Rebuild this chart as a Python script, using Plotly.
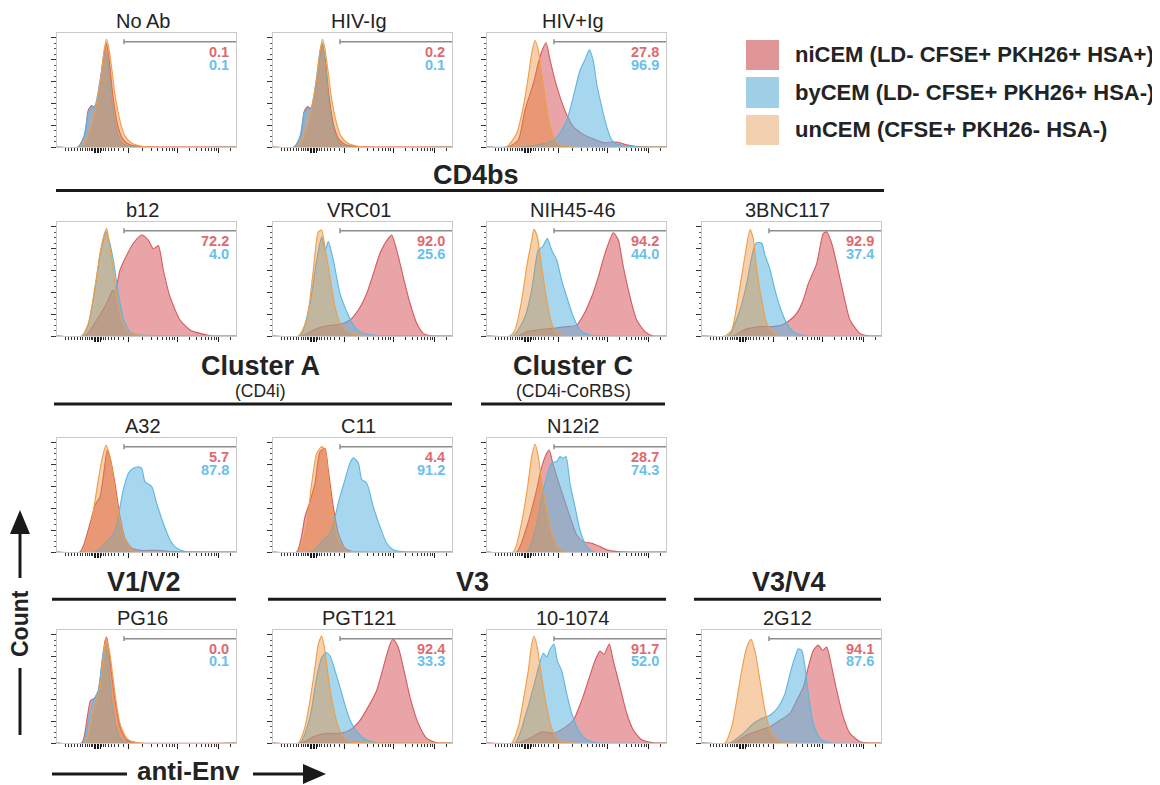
import plotly.graph_objects as go

W, H = 1160, 785
OFF = 8                      # browser body margin the page is drawn inside
FW, FH = W - OFF, H - OFF    # figure size so that it ends at the window edge
FONT = "Liberation Sans, Arial, Helvetica, sans-serif"

# ---------------- data (x: display channel 0-179, y: % of mode) ----------------
panel_names = ["No Ab", "HIV-Ig", "HIV+Ig", "b12", "VRC01", "NIH45-46", "3BNC117",
               "A32", "C11", "N12i2", "PG16", "PGT121", "10-1074", "2G12"]
ni_pct = ["0.1", "0.2", "27.8", "72.2", "92.0", "94.2", "92.9",
          "5.7", "4.4", "28.7", "0.0", "92.4", "91.7", "94.1"]
by_pct = ["0.1", "0.1", "96.9", "4.0", "25.6", "44.0", "37.4",
          "87.8", "91.2", "74.3", "0.1", "33.3", "52.0", "87.6"]
legend_labels = ["niCEM (LD- CFSE+ PKH26+ HSA+)", "byCEM (LD- CFSE+ PKH26+ HSA-)",
                 "unCEM (CFSE+ PKH26- HSA-)"]

noab_ni_x = [0, 21, 28, 31, 34.5, 38, 43, 47, 49.5, 53, 56, 61, 66, 73, 83, 179]
noab_ni_y = [0, 0, 12, 33, 38, 36, 58, 86, 95, 73, 46, 19, 7, 2, 0.5, 0]
noab_by_x = [0, 22, 27, 31, 34, 38, 43, 48, 51, 54.5, 60, 65, 73, 179]
noab_by_y = [0, 0, 10, 30, 36, 38, 61, 86, 77, 43, 12.5, 3.5, 0.5, 0]
noab_un_x = [0, 24, 30, 36, 40, 44, 47, 49.5, 52, 55, 58, 63, 68, 75, 86, 179]
noab_un_y = [0, 0, 8, 25, 42, 65, 88, 99, 90, 70, 48, 24, 10, 3.5, 0.5, 0]

hivneg_ni_x = [0, 21, 28, 31, 34.5, 38, 43, 47, 49.5, 53, 56, 61, 66, 73, 83, 179]
hivneg_ni_y = [0, 0, 11, 32, 37, 35, 56, 84, 94, 74, 47, 19, 7, 2, 0.5, 0]
hivneg_by_x = [0, 22, 27, 31, 34, 38, 43, 47, 49.5, 53, 56, 61, 66, 73, 179]
hivneg_by_y = [0, 0, 10, 30, 35, 36, 60, 88, 95, 70, 40, 14, 4, 0.5, 0]
hivneg_un_x = [0, 24, 30, 36, 40, 44, 47, 49.5, 52, 55, 58, 63, 68, 75, 86, 179]
hivneg_un_y = [0, 0, 8, 25, 42, 65, 88, 99, 90, 70, 48, 24, 10, 3.5, 0.5, 0]

hivpos_ni_x = [0, 21, 31.3, 38, 46.3, 51.3, 54.7, 59, 63, 68, 73, 79.7, 86.3, 94.7, 104.7, 116.3, 129.7, 139.7, 150, 179]
hivpos_ni_y = [0, 0, 6.4, 34, 58, 77, 87.6, 95.5, 80, 61, 46, 29.5, 18.6, 12.5, 8, 4, 4.6, 2, 0.5, 0]
hivpos_by_x = [0, 33, 50, 63, 71.3, 79.7, 86.3, 93, 98, 102.3, 106.3, 109.7, 114.7, 119.7, 124.7, 129.7, 139.7, 150, 179]
hivpos_by_y = [0, 0, 2, 4.6, 10.6, 24.4, 46, 70.3, 80, 89, 79, 58, 37, 18.6, 6.4, 2.7, 1, 0, 0]
hivpos_un_x = [0, 19.5, 29.7, 36.3, 41.3, 44.7, 48, 51.3, 53.7, 58, 63, 68, 73, 83, 179]
hivpos_un_y = [0, 0, 12.5, 37, 64.5, 86, 97.5, 89, 73.6, 46, 18.6, 6.4, 2, 0, 0]

b12_ni_x = [0, 28, 39.7, 49.7, 55.7, 58, 63, 69.7, 76.3, 84.7, 91.3, 96.3, 101.3, 106.3, 113, 123, 133, 143, 156.3, 179]
b12_ni_y = [0, 0, 14.7, 30, 42, 40, 60.5, 74, 85, 92.6, 88, 80, 83, 60.5, 36, 14.7, 5.5, 2.4, 0, 0]
b12_by_x = [0, 25, 31.5, 38, 43, 47, 49, 52, 56.3, 61.3, 66.3, 73, 82, 179]
b12_by_y = [0, 0, 11, 43, 74, 90, 95.6, 88, 69.7, 39, 16, 4, 1, 0]
b12_un_x = [0, 24.7, 31.3, 38, 43, 47, 49.7, 53, 56.3, 59.7, 64.7, 71.3, 79.7, 179]
b12_un_y = [0, 0, 11.6, 45, 75.8, 92.6, 98.7, 81, 60.5, 36, 14.7, 4, 1, 0]

vrc_ni_x = [0, 28.7, 40.3, 50.3, 60.3, 70.3, 77, 85.3, 93.7, 100.3, 107, 115.3, 118.7, 123.7, 130.3, 137, 143.7, 150.3, 160.3, 179]
vrc_ni_y = [0, 0, 5.5, 8.6, 10, 11.6, 14.7, 23.8, 39, 57, 75.8, 89.5, 92.6, 78.8, 54, 30, 11.6, 2.4, 0, 0]
vrc_by_x = [0, 27, 37, 43.7, 48.7, 52, 55.3, 60.3, 67, 73.7, 80.3, 87, 97, 179]
vrc_by_y = [0, 0, 30, 69.7, 91, 78.8, 86.5, 69.7, 39, 22.4, 10.1, 4, 1, 0]
vrc_un_x = [0, 25.3, 33.7, 40.3, 45.3, 48.7, 52, 57, 62, 67, 73.7, 83.7, 179]
vrc_un_y = [0, 0, 14.7, 60.5, 95.6, 97, 81, 54, 26.6, 11.6, 4, 1, 0]

nih_ni_x = [0, 31.3, 39.7, 53, 66.3, 79.7, 89.7, 96.3, 104.7, 111.3, 118, 126.3, 131.3, 136.3, 143, 149.7, 158, 166.3, 179]
nih_ni_y = [0, 0, 4, 6, 7, 8.6, 10, 19, 36, 54, 75.8, 94.7, 88, 63.5, 36, 14.7, 4, 0, 0]
nih_by_x = [0, 26.3, 38, 44.7, 51.3, 55.7, 60.3, 64.7, 69.7, 74.7, 79.7, 86.3, 93, 103, 179]
nih_by_y = [0, 0, 17.7, 42, 78.8, 82, 89.5, 78.8, 69.7, 51, 36, 17.7, 5.5, 1, 0]
nih_un_x = [0, 23, 28, 34.7, 39.7, 44.7, 47, 50.3, 54.7, 59.7, 64.7, 69.7, 76.3, 179]
nih_un_y = [0, 0, 5.5, 33, 63.5, 88, 97.8, 91, 63.5, 33, 11.6, 2.4, 0.5, 0]

bnc_ni_x = [0, 31.3, 41.3, 58, 71.3, 79.7, 88, 94.7, 101.3, 106.3, 114.7, 121.3, 124.7, 129.7, 134.7, 141.3, 148, 158, 168, 179]
bnc_ni_y = [0, 0, 5.5, 8.6, 8.6, 10, 14.7, 20.8, 33, 48, 66.4, 94, 95.6, 85, 66.4, 39, 14.7, 2.4, 0, 0]
bnc_by_x = [0, 26.3, 38, 44.7, 51.3, 54.7, 59.7, 63, 68, 73, 78, 84.7, 91.3, 101.3, 179]
bnc_by_y = [0, 0, 23.8, 48, 79, 85.6, 85, 74, 61, 42, 26.6, 11.6, 4, 0.5, 0]
bnc_un_x = [0, 23, 29.7, 36.3, 43, 48, 51.3, 54.7, 59.7, 64.7, 71.3, 78, 179]
bnc_un_y = [0, 0, 5.5, 36, 73.6, 97.5, 89, 61, 33, 11.6, 2.4, 0.5, 0]

a32_ni_x = [0, 23, 33, 38, 43, 46.3, 50.3, 53.7, 58, 63, 68, 74.7, 83, 100, 115, 179]
a32_ni_y = [0, 0, 26, 43, 50.7, 69, 93.5, 84, 63, 32.4, 12.5, 3.4, 1.5, 1.5, 0.5, 0]
a32_by_x = [0, 38, 49.7, 58, 63, 66.3, 71.3, 76.3, 81.3, 84.7, 88, 94.7, 99.7, 106.3, 113, 119.7, 129.7, 179]
a32_by_y = [0, 0, 9.5, 20, 41.5, 57, 72, 76.7, 78, 76.7, 64.5, 60, 44.6, 26.3, 11, 3.4, 0.3, 0]
a32_un_x = [0, 24.7, 33, 39.7, 44.7, 49, 53, 58, 63, 68, 74.7, 83, 179]
a32_un_y = [0, 0, 20, 57, 84, 98, 87.4, 57, 29.3, 11, 2.4, 0.3, 0]

c11_ni_x = [0, 23.7, 32, 37, 42, 47, 52, 55.3, 60.3, 65.3, 72, 80.3, 179]
c11_ni_y = [0, 0, 32.4, 46.4, 63, 92, 95, 75, 41.5, 17, 3.4, 0.3, 0]
c11_by_x = [0, 38, 48.7, 57, 62, 67, 72, 77, 80.3, 85.3, 88.7, 93.7, 100.3, 107, 113.7, 120.3, 130.3, 179]
c11_by_y = [0, 0, 9.5, 17, 32.4, 51, 66.4, 81.7, 86.3, 81.7, 66.4, 63.3, 41.5, 23.2, 8, 2, 0.3, 0]
c11_un_x = [0, 25.3, 33.7, 38.7, 43.7, 48.7, 52, 55.3, 60.3, 65.3, 72, 80, 179]
c11_un_y = [0, 0, 26, 63, 90.5, 96.6, 93.5, 69, 32.4, 11, 1.5, 0.3, 0]

n12_ni_x = [0, 29.7, 39.7, 48, 54.7, 59.7, 62.3, 65.7, 69.7, 76.3, 83, 89.7, 96.3, 104.7, 113, 119.7, 129.7, 179]
n12_ni_y = [0, 0, 23, 50.7, 78, 90.5, 93.5, 81.7, 69.5, 50.7, 32.4, 15.6, 9.5, 8, 5, 2, 0.3, 0]
n12_by_x = [0, 39.7, 49.7, 56.3, 64.7, 69.7, 73, 76.3, 79, 83, 88, 93, 99.7, 106.3, 179]
n12_by_y = [0, 0, 26, 57, 81.7, 83, 87.4, 86, 87.4, 63, 41.5, 20, 5, 0.3, 0]
n12_un_x = [0, 26.3, 33, 39.7, 44.7, 48, 51.3, 54.7, 59.7, 64.7, 71.3, 79.7, 179]
n12_un_y = [0, 0, 20, 54, 87.4, 99, 87.4, 63, 38.5, 17, 3.4, 0.3, 0]

pg16_ni_x = [0, 24.7, 30.3, 33.7, 39.7, 43, 48, 49.7, 53, 58, 63, 69.7, 79.7, 179]
pg16_ni_y = [0, 0, 24, 39.4, 42.5, 58, 94.4, 98, 76, 39.4, 15, 2.8, 0.3, 0]
pg16_by_x = [0, 26.3, 31.3, 36.3, 41.3, 46.3, 48.3, 51.3, 54.7, 59.7, 66.3, 179]
pg16_by_y = [0, 0, 21, 39.4, 48.6, 85, 90, 76, 39.4, 12, 1.3, 0]
pg16_un_x = [0, 28, 36.3, 43, 46.3, 49, 53, 58, 63, 69.7, 79.7, 179]
pg16_un_y = [0, 0, 30, 51.6, 79, 97.5, 82, 45.6, 18, 4.3, 0.3, 0]

pgt_ni_x = [0, 28.7, 40.3, 53.7, 67, 77, 87, 97, 103.7, 110.3, 117, 120.3, 125.3, 130.3, 137, 145.3, 153.7, 163.7, 179]
pgt_ni_y = [0, 0, 5.8, 8.9, 8.9, 12, 21, 36.4, 48.6, 70, 91.4, 96, 88.3, 70, 42.4, 18, 4.3, 0.3, 0]
pgt_by_x = [0, 27, 37, 43.7, 48.7, 53, 57, 62, 67, 73.7, 78.7, 85.3, 93.7, 103.7, 179]
pgt_by_y = [0, 0, 24, 60.8, 79, 83.7, 80.7, 67, 51.6, 30, 18, 8.9, 2.8, 0.3, 0]
pgt_un_x = [0, 25.3, 32, 37, 42, 45.3, 48.7, 52, 55.3, 60.3, 65.3, 70.3, 77, 87, 179]
pgt_un_y = [0, 0, 15, 39.4, 70, 91.4, 99, 85, 60.8, 33.3, 15, 5.8, 1.2, 0.3, 0]

t1074_ni_x = [0, 31.3, 43, 54.7, 66.3, 76.3, 86.3, 94.7, 101.3, 108, 113, 117, 122.3, 126.3, 133, 139.7, 146.3, 154.7, 166.3, 179]
t1074_ni_y = [0, 0, 4.3, 10.4, 8.9, 13.5, 21, 39.4, 57.7, 76, 85, 82, 91.4, 76, 52, 27.5, 12, 3, 0.3, 0]
t1074_by_x = [0, 28, 39.7, 48, 53, 56.3, 59.7, 63, 67, 70.3, 74.7, 79.7, 84.7, 91.3, 99.7, 109.7, 179]
t1074_by_y = [0, 0, 29.3, 57, 75, 83, 79.5, 86.5, 91.4, 76, 67, 45.6, 27.5, 12, 3, 0.3, 0]
t1074_un_x = [0, 24.7, 31.3, 36.3, 41.3, 44.7, 47, 50.3, 54.7, 59.7, 64.7, 69.7, 76.3, 179]
t1074_un_y = [0, 0, 15, 39.4, 67, 91.4, 99, 88.3, 60.8, 33.3, 13.5, 4.3, 0.6, 0]

g12_ni_x = [0, 31.3, 44.7, 58, 68, 78, 88, 94.7, 101.3, 106.3, 111.3, 116.3, 120.7, 124.7, 129.7, 134.7, 141.3, 148, 158, 168, 179]
g12_ni_y = [0, 0, 7.4, 12, 15, 21, 27.5, 39.4, 51.6, 70.3, 85.6, 90.5, 85.6, 88.8, 70.3, 48.6, 24, 8.9, 1.2, 0, 0]
g12_by_x = [0, 28, 41.3, 51.3, 59.7, 68, 76.3, 83, 88, 93, 96.3, 99.7, 103, 106.3, 111.3, 118, 128, 179]
g12_by_y = [0, 0, 8.9, 18, 22.6, 25.7, 33.3, 45.6, 64, 79.5, 87.2, 85.6, 70.3, 45.6, 18, 4.3, 0.3, 0]
g12_un_x = [0, 23, 29.7, 34.7, 39.7, 44.7, 49, 53, 58, 63, 68, 74.7, 83, 179]
g12_un_y = [0, 0, 15, 39.4, 67, 88.3, 96, 85, 57.7, 30, 12, 3, 0.3, 0]

# per panel: (niCEM, byCEM, unCEM) in drawing order
curves = [
    ((noab_ni_x, noab_ni_y), (noab_by_x, noab_by_y), (noab_un_x, noab_un_y)),
    ((hivneg_ni_x, hivneg_ni_y), (hivneg_by_x, hivneg_by_y), (hivneg_un_x, hivneg_un_y)),
    ((hivpos_ni_x, hivpos_ni_y), (hivpos_by_x, hivpos_by_y), (hivpos_un_x, hivpos_un_y)),
    ((b12_ni_x, b12_ni_y), (b12_by_x, b12_by_y), (b12_un_x, b12_un_y)),
    ((vrc_ni_x, vrc_ni_y), (vrc_by_x, vrc_by_y), (vrc_un_x, vrc_un_y)),
    ((nih_ni_x, nih_ni_y), (nih_by_x, nih_by_y), (nih_un_x, nih_un_y)),
    ((bnc_ni_x, bnc_ni_y), (bnc_by_x, bnc_by_y), (bnc_un_x, bnc_un_y)),
    ((a32_ni_x, a32_ni_y), (a32_by_x, a32_by_y), (a32_un_x, a32_un_y)),
    ((c11_ni_x, c11_ni_y), (c11_by_x, c11_by_y), (c11_un_x, c11_un_y)),
    ((n12_ni_x, n12_ni_y), (n12_by_x, n12_by_y), (n12_un_x, n12_un_y)),
    ((pg16_ni_x, pg16_ni_y), (pg16_by_x, pg16_by_y), (pg16_un_x, pg16_un_y)),
    ((pgt_ni_x, pgt_ni_y), (pgt_by_x, pgt_by_y), (pgt_un_x, pgt_un_y)),
    ((t1074_ni_x, t1074_ni_y), (t1074_by_x, t1074_by_y), (t1074_un_x, t1074_un_y)),
    ((g12_ni_x, g12_ni_y), (g12_by_x, g12_by_y), (g12_un_x, g12_un_y)),
]

# axis tick positions (biexponential display)
x_major_ticks = [37, 38.5, 40, 41.5, 43, 71, 120, 161]
x_minor_ticks = [8, 11, 14, 17, 20, 23, 25.5, 28, 30, 32, 34, 35.5, 44.5, 46, 48.5, 51, 54, 57.5, 61.5, 66,
                 85.7, 94.4, 100.5, 105.3, 109.1, 112.4, 115.2, 117.8,
                 132.3, 139.6, 144.7, 148.7, 151.9, 154.6, 157.0, 159.1, 173.3]
y_major_ticks = [0, 20, 40, 60, 80, 100]
y_minor_ticks = [5, 10, 15, 25, 30, 35, 45, 50, 55, 65, 70, 75, 85, 90, 95]

# ---------------- layout geometry (window pixels) ----------------
PW = 179
panel_left = [57, 273, 487, 57, 273, 487, 702, 57, 273, 487, 57, 273, 487, 702]
panel_top = [33, 33, 33, 222, 222, 222, 222, 438, 438, 438, 630, 630, 630, 630]
panel_bot = [147, 147, 147, 336, 336, 336, 336, 552, 552, 552, 743, 743, 743, 743]

line_cols = ["#D65A5F", "#5CB6E0", "#EE9E45"]
fill_cols = ["rgba(214,90,95,0.55)", "rgba(92,182,224,0.55)", "rgba(235,135,45,0.4)"]
num_cols = ["#DE6A6D", "#6BC0E8"]
legend_cols = ["#E09696", "#9FD0E6", "#F1D1AF"]
TXT = "#232323"

def px(x):
    return (x - OFF) / FW

def py(y):
    return 1 - (y - OFF) / FH

fig = go.Figure()
layout = {}
shapes = []
annotations = []

for i, name in enumerate(panel_names):
    n = i + 1
    sfx = "" if n == 1 else str(n)
    L, T, B = panel_left[i], panel_top[i], panel_bot[i]
    for k, (cx, cy) in enumerate(curves[i]):
        fig.add_trace(go.Scatter(
            x=cx, y=cy, mode="lines", xaxis="x" + sfx, yaxis="y" + sfx,
            line=dict(color=line_cols[k], width=1.1, shape="spline", smoothing=0.6),
            fill="tozeroy", fillcolor=fill_cols[k], showlegend=False, hoverinfo="skip"))
    layout["xaxis" + sfx] = dict(
        domain=[px(L), px(L + PW)], range=[0, 179], anchor="y" + sfx,
        showline=True, mirror=True, linecolor="#c9c9c9", linewidth=1,
        showgrid=False, zeroline=False, showticklabels=False,
        ticks="outside", tickmode="array", tickvals=x_major_ticks, ticklen=5,
        tickwidth=1, tickcolor="#1a1a1a",
        minor=dict(ticks="outside", tickmode="array", tickvals=x_minor_ticks, ticklen=3,
                   tickwidth=1, tickcolor="#333333", showgrid=False))
    layout["yaxis" + sfx] = dict(
        domain=[py(B), py(T)], range=[0, 104.5], anchor="x" + sfx,
        showline=True, mirror=True, linecolor="#c9c9c9", linewidth=1,
        showgrid=False, zeroline=False, showticklabels=False,
        ticks="outside", tickmode="array", tickvals=y_major_ticks, ticklen=5,
        tickwidth=1, tickcolor="#333333",
        minor=dict(ticks="outside", tickmode="array", tickvals=y_minor_ticks, ticklen=2.5,
                   tickwidth=1, tickcolor="#555555", showgrid=False))
    # gate
    shapes.append(dict(type="line", xref="x" + sfx, yref="y" + sfx, x0=67, x1=179, y0=96.5, y1=96.5,
                       line=dict(color="#8c8c8c", width=1.5)))
    shapes.append(dict(type="line", xref="x" + sfx, yref="y" + sfx, x0=67, x1=67, y0=94.3, y1=98.7,
                       line=dict(color="#8c8c8c", width=1.5)))
    # percentages
    annotations.append(dict(xref="x" + sfx, yref="y" + sfx, x=173.5, y=87, text="<b>%s</b>" % ni_pct[i],
                            showarrow=False, xanchor="right", yanchor="middle",
                            font=dict(family=FONT, size=14.5, color=num_cols[0])))
    annotations.append(dict(xref="x" + sfx, yref="y" + sfx, x=173.5, y=75.5, text="<b>%s</b>" % by_pct[i],
                            showarrow=False, xanchor="right", yanchor="middle",
                            font=dict(family=FONT, size=14.5, color=num_cols[1])))
    # title
    annotations.append(dict(xref="paper", yref="paper", x=px(L + PW / 2 - 4), y=py(T - 12),
                            text=name, showarrow=False, xanchor="center", yanchor="middle",
                            font=dict(family=FONT, size=20, color=TXT)))

# group headers
headers = [("CD4bs", 476, 175, 56, 884, 190.5, None, 0),
           ("Cluster A", 260.5, 366, 54, 452, 404, "(CD4i)", 391),
           ("Cluster C", 573, 366, 481, 665, 404, "(CD4i-CoRBS)", 391),
           ("V1/V2", 143.5, 582, 52, 236, 599.3, None, 0),
           ("V3", 472, 582, 268, 666, 599.3, None, 0),
           ("V3/V4", 789, 582, 694, 881, 599.3, None, 0)]
for text, cx, cy, x0, x1, ly, sub, sy in headers:
    annotations.append(dict(xref="paper", yref="paper", x=px(cx), y=py(cy), text="<b>%s</b>" % text,
                            showarrow=False, xanchor="center", yanchor="middle",
                            font=dict(family=FONT, size=27, color=TXT)))
    shapes.append(dict(type="line", xref="paper", yref="paper", x0=px(x0), x1=px(x1), y0=py(ly), y1=py(ly),
                       line=dict(color="#1a1a1a", width=3)))
    if sub:
        annotations.append(dict(xref="paper", yref="paper", x=px(cx), y=py(sy), text=sub,
                                showarrow=False, xanchor="center", yanchor="middle",
                                font=dict(family=FONT, size=17.5, color=TXT)))

# legend
leg_y = [(40, 70), (77, 108), (115, 145)]
for k in range(3):
    y0, y1 = leg_y[k]
    shapes.append(dict(type="rect", xref="paper", yref="paper", x0=px(746), x1=px(779), y0=py(y1), y1=py(y0),
                       fillcolor=legend_cols[k], line=dict(width=0)))
    annotations.append(dict(xref="paper", yref="paper", x=px(793), y=py((y0 + y1) / 2), text="<b>%s</b>" % legend_labels[k],
                            showarrow=False, xanchor="left", yanchor="middle",
                            font=dict(family=FONT, size=22, color=TXT)))

# Count arrow (vertical)
AX = 20
shapes.append(dict(type="line", xref="paper", yref="paper", x0=px(AX), x1=px(AX), y0=py(735), y1=py(668),
                   line=dict(color="#1a1a1a", width=3)))
shapes.append(dict(type="line", xref="paper", yref="paper", x0=px(AX), x1=px(AX), y0=py(578), y1=py(530),
                   line=dict(color="#1a1a1a", width=3)))
shapes.append(dict(type="path", xref="paper", yref="paper",
                   path="M %f %f L %f %f L %f %f Z" % (px(AX), py(510), px(AX - 10), py(534), px(AX + 10), py(534)),
                   fillcolor="#1a1a1a", line=dict(width=0)))
annotations.append(dict(xref="paper", yref="paper", x=px(AX), y=py(624), text="<b>Count</b>", textangle=-90,
                        showarrow=False, xanchor="center", yanchor="middle",
                        font=dict(family=FONT, size=23, color=TXT)))

# anti-Env arrow (horizontal)
AY = 774
shapes.append(dict(type="line", xref="paper", yref="paper", x0=px(52), x1=px(127), y0=py(AY), y1=py(AY),
                   line=dict(color="#1a1a1a", width=3)))
shapes.append(dict(type="line", xref="paper", yref="paper", x0=px(253), x1=px(306), y0=py(AY), y1=py(AY),
                   line=dict(color="#1a1a1a", width=3)))
shapes.append(dict(type="path", xref="paper", yref="paper",
                   path="M %f %f L %f %f L %f %f Z" % (px(326), py(AY), px(303), py(AY - 10), px(303), py(AY + 10)),
                   fillcolor="#1a1a1a", line=dict(width=0)))
annotations.append(dict(xref="paper", yref="paper", x=px(188.5), y=py(771), text="<b>anti-Env</b>",
                        showarrow=False, xanchor="center", yanchor="middle",
                        font=dict(family=FONT, size=26, color=TXT)))

fig.update_layout(**layout)
fig.update_layout(width=FW, height=FH, margin=dict(l=0, r=0, t=0, b=0),
                  paper_bgcolor="white", plot_bgcolor="white", showlegend=False,
                  shapes=shapes, annotations=annotations, font=dict(family=FONT))

fig.write_html("out.html")
